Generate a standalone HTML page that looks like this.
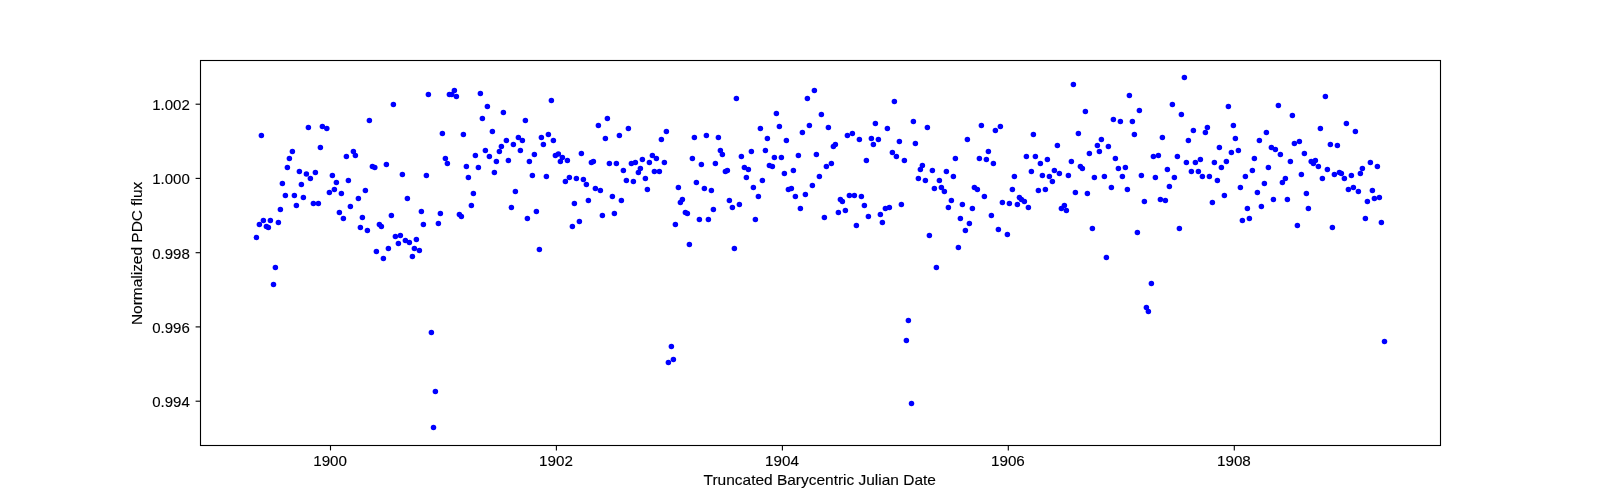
<!DOCTYPE html>
<html><head><meta charset="utf-8"><style>
html,body{margin:0;padding:0;background:#fff;width:1600px;height:500px;overflow:hidden}
svg{display:block;will-change:transform}
text{font-family:"Liberation Sans",sans-serif;fill:#000;stroke:#000;stroke-width:0.12px}
</style></head><body>
<svg width="1600" height="500" viewBox="0 0 1600 500">
<rect x="200.5" y="60.5" width="1240" height="385" fill="none" stroke="#000" stroke-width="1.11"/>
<line x1="330.5" y1="445.5" x2="330.5" y2="450.4" stroke="#000" stroke-width="1.11"/>
<text x="330.1" y="465.9" text-anchor="middle" font-size="13.9" textLength="33.8" lengthAdjust="spacingAndGlyphs">1900</text>
<line x1="556.4" y1="445.5" x2="556.4" y2="450.4" stroke="#000" stroke-width="1.11"/>
<text x="556.0" y="465.9" text-anchor="middle" font-size="13.9" textLength="33.8" lengthAdjust="spacingAndGlyphs">1902</text>
<line x1="782.4" y1="445.5" x2="782.4" y2="450.4" stroke="#000" stroke-width="1.11"/>
<text x="782.0" y="465.9" text-anchor="middle" font-size="13.9" textLength="33.8" lengthAdjust="spacingAndGlyphs">1904</text>
<line x1="1008.3" y1="445.5" x2="1008.3" y2="450.4" stroke="#000" stroke-width="1.11"/>
<text x="1007.9" y="465.9" text-anchor="middle" font-size="13.9" textLength="33.8" lengthAdjust="spacingAndGlyphs">1906</text>
<line x1="1234.3" y1="445.5" x2="1234.3" y2="450.4" stroke="#000" stroke-width="1.11"/>
<text x="1233.9" y="465.9" text-anchor="middle" font-size="13.9" textLength="33.8" lengthAdjust="spacingAndGlyphs">1908</text>
<line x1="195.6" y1="104.2" x2="200.5" y2="104.2" stroke="#000" stroke-width="1.11"/>
<text x="189.75" y="110.15" text-anchor="end" font-size="13.9" textLength="37.5" lengthAdjust="spacingAndGlyphs">1.002</text>
<line x1="195.6" y1="178.4" x2="200.5" y2="178.4" stroke="#000" stroke-width="1.11"/>
<text x="189.75" y="184.35" text-anchor="end" font-size="13.9" textLength="37.5" lengthAdjust="spacingAndGlyphs">1.000</text>
<line x1="195.6" y1="252.7" x2="200.5" y2="252.7" stroke="#000" stroke-width="1.11"/>
<text x="189.75" y="258.65" text-anchor="end" font-size="13.9" textLength="37.5" lengthAdjust="spacingAndGlyphs">0.998</text>
<line x1="195.6" y1="326.9" x2="200.5" y2="326.9" stroke="#000" stroke-width="1.11"/>
<text x="189.75" y="332.84999999999997" text-anchor="end" font-size="13.9" textLength="37.5" lengthAdjust="spacingAndGlyphs">0.996</text>
<line x1="195.6" y1="401.2" x2="200.5" y2="401.2" stroke="#000" stroke-width="1.11"/>
<text x="189.75" y="407.15" text-anchor="end" font-size="13.9" textLength="37.5" lengthAdjust="spacingAndGlyphs">0.994</text>
<text x="819.75" y="485.2" text-anchor="middle" font-size="13.9" textLength="232.3" lengthAdjust="spacingAndGlyphs">Truncated Barycentric Julian Date</text>
<text transform="translate(141.9,253.4) rotate(-90)" x="0" y="0" text-anchor="middle" font-size="13.9" textLength="143.4" lengthAdjust="spacingAndGlyphs">Normalized PDC flux</text>
<g fill="#0000ff"><circle cx="261.4" cy="135.4" r="2.75"/><circle cx="308.4" cy="127.4" r="2.75"/><circle cx="322.4" cy="126.4" r="2.75"/><circle cx="326.8" cy="128.4" r="2.75"/><circle cx="320.4" cy="147.4" r="2.75"/><circle cx="292.4" cy="151.4" r="2.75"/><circle cx="289.4" cy="158.4" r="2.75"/><circle cx="287.4" cy="167.4" r="2.75"/><circle cx="299.4" cy="171.4" r="2.75"/><circle cx="306.4" cy="174" r="2.75"/><circle cx="315.4" cy="172.4" r="2.75"/><circle cx="332.4" cy="175.4" r="2.75"/><circle cx="369.4" cy="120.4" r="2.75"/><circle cx="393.4" cy="104.4" r="2.75"/><circle cx="353.4" cy="151.4" r="2.75"/><circle cx="355.4" cy="155.4" r="2.75"/><circle cx="346.4" cy="156.4" r="2.75"/><circle cx="372.4" cy="166.4" r="2.75"/><circle cx="374.8" cy="167.4" r="2.75"/><circle cx="386.4" cy="164.4" r="2.75"/><circle cx="402.4" cy="174.4" r="2.75"/><circle cx="426.4" cy="175.4" r="2.75"/><circle cx="428.4" cy="94.4" r="2.75"/><circle cx="454.4" cy="90.4" r="2.75"/><circle cx="449.4" cy="94.4" r="2.75"/><circle cx="451.8" cy="94.6" r="2.75"/><circle cx="456.4" cy="96.4" r="2.75"/><circle cx="480.4" cy="93.4" r="2.75"/><circle cx="487.4" cy="106.4" r="2.75"/><circle cx="503.4" cy="112.4" r="2.75"/><circle cx="482.4" cy="118.4" r="2.75"/><circle cx="525.4" cy="120.4" r="2.75"/><circle cx="551.4" cy="100.4" r="2.75"/><circle cx="442.4" cy="133.4" r="2.75"/><circle cx="463.4" cy="134.4" r="2.75"/><circle cx="492.4" cy="131.4" r="2.75"/><circle cx="506.4" cy="140.4" r="2.75"/><circle cx="518.4" cy="137.4" r="2.75"/><circle cx="522.4" cy="140.4" r="2.75"/><circle cx="513.4" cy="144.4" r="2.75"/><circle cx="501.4" cy="146.4" r="2.75"/><circle cx="499.4" cy="151.4" r="2.75"/><circle cx="485.4" cy="150.4" r="2.75"/><circle cx="489.4" cy="156.4" r="2.75"/><circle cx="475.4" cy="155.4" r="2.75"/><circle cx="520.4" cy="150.4" r="2.75"/><circle cx="541.4" cy="137.4" r="2.75"/><circle cx="548.4" cy="134.4" r="2.75"/><circle cx="553.4" cy="140.4" r="2.75"/><circle cx="543.4" cy="144.4" r="2.75"/><circle cx="534.4" cy="154.4" r="2.75"/><circle cx="529.4" cy="161.4" r="2.75"/><circle cx="508.4" cy="160.4" r="2.75"/><circle cx="496.4" cy="161.4" r="2.75"/><circle cx="445.4" cy="158.4" r="2.75"/><circle cx="447.4" cy="163.4" r="2.75"/><circle cx="466.4" cy="166.4" r="2.75"/><circle cx="478.4" cy="167.4" r="2.75"/><circle cx="494.4" cy="172.4" r="2.75"/><circle cx="532.4" cy="175.4" r="2.75"/><circle cx="546.4" cy="176.4" r="2.75"/><circle cx="468.4" cy="177.4" r="2.75"/><circle cx="555.4" cy="155.4" r="2.75"/><circle cx="558.4" cy="154" r="2.75"/><circle cx="562.4" cy="157.4" r="2.75"/><circle cx="560.4" cy="161.4" r="2.75"/><circle cx="567.4" cy="160.4" r="2.75"/><circle cx="581.4" cy="153.4" r="2.75"/><circle cx="591.4" cy="162.4" r="2.75"/><circle cx="593.4" cy="161.4" r="2.75"/><circle cx="598.4" cy="125.4" r="2.75"/><circle cx="607.4" cy="118.4" r="2.75"/><circle cx="605.4" cy="138.4" r="2.75"/><circle cx="619.4" cy="135.4" r="2.75"/><circle cx="628.4" cy="128.4" r="2.75"/><circle cx="609.4" cy="163.4" r="2.75"/><circle cx="616.4" cy="163.4" r="2.75"/><circle cx="623.4" cy="170.4" r="2.75"/><circle cx="631.4" cy="163.4" r="2.75"/><circle cx="635.4" cy="162.4" r="2.75"/><circle cx="640.4" cy="168.4" r="2.75"/><circle cx="638.4" cy="172.4" r="2.75"/><circle cx="642.4" cy="159.4" r="2.75"/><circle cx="649.4" cy="162.4" r="2.75"/><circle cx="652.4" cy="155.4" r="2.75"/><circle cx="656.4" cy="158.4" r="2.75"/><circle cx="664.4" cy="162.4" r="2.75"/><circle cx="654.4" cy="171.4" r="2.75"/><circle cx="659.4" cy="171.4" r="2.75"/><circle cx="661.4" cy="139.4" r="2.75"/><circle cx="666.4" cy="131.4" r="2.75"/><circle cx="694.4" cy="137.4" r="2.75"/><circle cx="706.4" cy="135.4" r="2.75"/><circle cx="718.4" cy="137.4" r="2.75"/><circle cx="692.4" cy="158.4" r="2.75"/><circle cx="701.4" cy="164.4" r="2.75"/><circle cx="715.4" cy="163.4" r="2.75"/><circle cx="720.4" cy="150.4" r="2.75"/><circle cx="722.4" cy="154.4" r="2.75"/><circle cx="725.4" cy="171.4" r="2.75"/><circle cx="727.4" cy="170.4" r="2.75"/><circle cx="736.4" cy="98.4" r="2.75"/><circle cx="741.4" cy="156.4" r="2.75"/><circle cx="751.4" cy="151.4" r="2.75"/><circle cx="744.4" cy="167.4" r="2.75"/><circle cx="748.4" cy="169.4" r="2.75"/><circle cx="760.4" cy="128.4" r="2.75"/><circle cx="767.4" cy="138.4" r="2.75"/><circle cx="776.4" cy="113.4" r="2.75"/><circle cx="779.4" cy="126.4" r="2.75"/><circle cx="786.4" cy="140.4" r="2.75"/><circle cx="765.4" cy="150.4" r="2.75"/><circle cx="774.4" cy="157.4" r="2.75"/><circle cx="781.4" cy="157.4" r="2.75"/><circle cx="769.4" cy="165.4" r="2.75"/><circle cx="772.4" cy="166.4" r="2.75"/><circle cx="784.4" cy="173.4" r="2.75"/><circle cx="793.4" cy="170.4" r="2.75"/><circle cx="807.4" cy="98.4" r="2.75"/><circle cx="814.4" cy="90.4" r="2.75"/><circle cx="821.4" cy="114.4" r="2.75"/><circle cx="809.4" cy="125.4" r="2.75"/><circle cx="802.4" cy="132.4" r="2.75"/><circle cx="828.4" cy="127.4" r="2.75"/><circle cx="798.4" cy="155.4" r="2.75"/><circle cx="816.4" cy="154.4" r="2.75"/><circle cx="833.4" cy="146.4" r="2.75"/><circle cx="835.4" cy="144.4" r="2.75"/><circle cx="826.4" cy="166.4" r="2.75"/><circle cx="831.4" cy="163.4" r="2.75"/><circle cx="847.4" cy="135.4" r="2.75"/><circle cx="852.4" cy="133.4" r="2.75"/><circle cx="859.4" cy="139.4" r="2.75"/><circle cx="866.4" cy="160.4" r="2.75"/><circle cx="569.4" cy="177.4" r="2.75"/><circle cx="746.4" cy="177.4" r="2.75"/><circle cx="819.4" cy="176.4" r="2.75"/><circle cx="871.4" cy="138.4" r="2.75"/><circle cx="878.4" cy="139.4" r="2.75"/><circle cx="873.4" cy="144.4" r="2.75"/><circle cx="875.4" cy="123.4" r="2.75"/><circle cx="887.4" cy="128.4" r="2.75"/><circle cx="894.4" cy="101.4" r="2.75"/><circle cx="892.4" cy="152.4" r="2.75"/><circle cx="896.4" cy="156.4" r="2.75"/><circle cx="904.4" cy="160.4" r="2.75"/><circle cx="899.4" cy="141.4" r="2.75"/><circle cx="913.4" cy="121.4" r="2.75"/><circle cx="915.4" cy="143.4" r="2.75"/><circle cx="927.4" cy="127.4" r="2.75"/><circle cx="922.4" cy="165.4" r="2.75"/><circle cx="920.4" cy="169.4" r="2.75"/><circle cx="932.4" cy="170.4" r="2.75"/><circle cx="946.4" cy="171.4" r="2.75"/><circle cx="953.4" cy="176.4" r="2.75"/><circle cx="955.4" cy="158.4" r="2.75"/><circle cx="967.4" cy="139.4" r="2.75"/><circle cx="981.4" cy="125.4" r="2.75"/><circle cx="995.4" cy="130.4" r="2.75"/><circle cx="1000.4" cy="126.4" r="2.75"/><circle cx="988.4" cy="151.4" r="2.75"/><circle cx="979.4" cy="158.4" r="2.75"/><circle cx="986.4" cy="159.4" r="2.75"/><circle cx="993.4" cy="163.4" r="2.75"/><circle cx="1014.4" cy="176.4" r="2.75"/><circle cx="1026.4" cy="156.4" r="2.75"/><circle cx="1035.4" cy="156.4" r="2.75"/><circle cx="1040.4" cy="163.4" r="2.75"/><circle cx="1047.4" cy="159.4" r="2.75"/><circle cx="1031.4" cy="171.4" r="2.75"/><circle cx="1042.4" cy="175.4" r="2.75"/><circle cx="1049.4" cy="176.4" r="2.75"/><circle cx="1054.4" cy="170.4" r="2.75"/><circle cx="1059.4" cy="173.4" r="2.75"/><circle cx="1068.4" cy="175.4" r="2.75"/><circle cx="1033.4" cy="134.4" r="2.75"/><circle cx="1057.4" cy="145.4" r="2.75"/><circle cx="1073.4" cy="84.4" r="2.75"/><circle cx="1085.4" cy="111.4" r="2.75"/><circle cx="1078.4" cy="133.4" r="2.75"/><circle cx="1071.4" cy="161.4" r="2.75"/><circle cx="1080.4" cy="166.4" r="2.75"/><circle cx="1082.4" cy="168.4" r="2.75"/><circle cx="1089.4" cy="153.4" r="2.75"/><circle cx="1097.4" cy="145.4" r="2.75"/><circle cx="1101.4" cy="139.4" r="2.75"/><circle cx="1099.4" cy="151.4" r="2.75"/><circle cx="1108.4" cy="146.4" r="2.75"/><circle cx="1094.4" cy="177.4" r="2.75"/><circle cx="1104.4" cy="176.4" r="2.75"/><circle cx="1113.4" cy="119.4" r="2.75"/><circle cx="1120.4" cy="121.4" r="2.75"/><circle cx="1129.4" cy="95.4" r="2.75"/><circle cx="1132.4" cy="121.4" r="2.75"/><circle cx="1139.4" cy="110.4" r="2.75"/><circle cx="1134.4" cy="134.4" r="2.75"/><circle cx="1115.4" cy="158.4" r="2.75"/><circle cx="1118.4" cy="168.4" r="2.75"/><circle cx="1125.4" cy="167.4" r="2.75"/><circle cx="1122.4" cy="176.4" r="2.75"/><circle cx="1141.4" cy="175.4" r="2.75"/><circle cx="1153.4" cy="156.4" r="2.75"/><circle cx="1158.4" cy="155.4" r="2.75"/><circle cx="1162.4" cy="137.4" r="2.75"/><circle cx="1172.4" cy="104.4" r="2.75"/><circle cx="1167.4" cy="169.4" r="2.75"/><circle cx="1155.4" cy="177.4" r="2.75"/><circle cx="1174.4" cy="177.4" r="2.75"/><circle cx="1184.4" cy="77.4" r="2.75"/><circle cx="1181.4" cy="114.4" r="2.75"/><circle cx="1177.4" cy="156.4" r="2.75"/><circle cx="1228.4" cy="106.4" r="2.75"/><circle cx="1193.4" cy="130.4" r="2.75"/><circle cx="1207.4" cy="127.4" r="2.75"/><circle cx="1205.4" cy="132.4" r="2.75"/><circle cx="1188.4" cy="140.4" r="2.75"/><circle cx="1219.4" cy="147.4" r="2.75"/><circle cx="1231.4" cy="152.4" r="2.75"/><circle cx="1238.4" cy="150.4" r="2.75"/><circle cx="1233.4" cy="125.4" r="2.75"/><circle cx="1235.4" cy="138.4" r="2.75"/><circle cx="1278.4" cy="105.4" r="2.75"/><circle cx="1292.4" cy="115.4" r="2.75"/><circle cx="1266.4" cy="132.4" r="2.75"/><circle cx="1259.4" cy="140.4" r="2.75"/><circle cx="1271.4" cy="147.4" r="2.75"/><circle cx="1275.4" cy="149.4" r="2.75"/><circle cx="1280.4" cy="154.4" r="2.75"/><circle cx="1294.4" cy="143.4" r="2.75"/><circle cx="1299.4" cy="141.4" r="2.75"/><circle cx="1304.4" cy="153.4" r="2.75"/><circle cx="1325.4" cy="96.4" r="2.75"/><circle cx="1320.4" cy="128.4" r="2.75"/><circle cx="1346.4" cy="123.4" r="2.75"/><circle cx="1355.4" cy="131.4" r="2.75"/><circle cx="1330.4" cy="144.4" r="2.75"/><circle cx="1337.4" cy="145.4" r="2.75"/><circle cx="1186.4" cy="162.4" r="2.75"/><circle cx="1195.4" cy="162.4" r="2.75"/><circle cx="1200.4" cy="159.4" r="2.75"/><circle cx="1214.4" cy="162.4" r="2.75"/><circle cx="1226.4" cy="161.4" r="2.75"/><circle cx="1221.4" cy="167.4" r="2.75"/><circle cx="1191.4" cy="171.4" r="2.75"/><circle cx="1198.4" cy="171.4" r="2.75"/><circle cx="1202.4" cy="176.4" r="2.75"/><circle cx="1209.4" cy="176.4" r="2.75"/><circle cx="1217.4" cy="180.4" r="2.75"/><circle cx="1254.4" cy="158.4" r="2.75"/><circle cx="1252.4" cy="170.4" r="2.75"/><circle cx="1245.4" cy="176.4" r="2.75"/><circle cx="1240.4" cy="187.4" r="2.75"/><circle cx="1224.4" cy="195.4" r="2.75"/><circle cx="1212.4" cy="202.4" r="2.75"/><circle cx="1257.4" cy="192.4" r="2.75"/><circle cx="1264.4" cy="183.4" r="2.75"/><circle cx="1268.4" cy="167.4" r="2.75"/><circle cx="1290.4" cy="161.4" r="2.75"/><circle cx="1285.4" cy="178.4" r="2.75"/><circle cx="1282.4" cy="182.4" r="2.75"/><circle cx="1301.4" cy="174.4" r="2.75"/><circle cx="1306.4" cy="193.4" r="2.75"/><circle cx="1287.4" cy="199.4" r="2.75"/><circle cx="1273.4" cy="199.4" r="2.75"/><circle cx="1261.4" cy="206.4" r="2.75"/><circle cx="1247.4" cy="208.4" r="2.75"/><circle cx="1242.4" cy="220.4" r="2.75"/><circle cx="1249.4" cy="218.4" r="2.75"/><circle cx="1308.4" cy="208.4" r="2.75"/><circle cx="1311.2" cy="161.4" r="2.75"/><circle cx="1315.4" cy="160.4" r="2.75"/><circle cx="1313.4" cy="163.4" r="2.75"/><circle cx="1318.4" cy="166.4" r="2.75"/><circle cx="1327.4" cy="169.4" r="2.75"/><circle cx="1322.4" cy="178.4" r="2.75"/><circle cx="1334.4" cy="174.4" r="2.75"/><circle cx="1339.4" cy="172.4" r="2.75"/><circle cx="1341.4" cy="173.4" r="2.75"/><circle cx="1344.4" cy="178.4" r="2.75"/><circle cx="1351.4" cy="175.4" r="2.75"/><circle cx="1360.4" cy="173.4" r="2.75"/><circle cx="1362.4" cy="168.4" r="2.75"/><circle cx="1370.4" cy="162.4" r="2.75"/><circle cx="1377.4" cy="166.4" r="2.75"/><circle cx="1348.4" cy="189.4" r="2.75"/><circle cx="1353.4" cy="187.4" r="2.75"/><circle cx="1358.4" cy="191.4" r="2.75"/><circle cx="1372.4" cy="190.4" r="2.75"/><circle cx="1367.4" cy="201.4" r="2.75"/><circle cx="1374.4" cy="198.4" r="2.75"/><circle cx="1379.4" cy="197.4" r="2.75"/><circle cx="1179.4" cy="228.4" r="2.75"/><circle cx="1297.4" cy="225.4" r="2.75"/><circle cx="1332.4" cy="227.4" r="2.75"/><circle cx="1365.4" cy="218.4" r="2.75"/><circle cx="1381.4" cy="222.4" r="2.75"/><circle cx="282.4" cy="183.4" r="2.75"/><circle cx="301.4" cy="184.4" r="2.75"/><circle cx="310.4" cy="178.4" r="2.75"/><circle cx="336.4" cy="182.4" r="2.75"/><circle cx="348.4" cy="180.4" r="2.75"/><circle cx="334.4" cy="189.4" r="2.75"/><circle cx="329.4" cy="192.4" r="2.75"/><circle cx="341.4" cy="193.4" r="2.75"/><circle cx="365.4" cy="190.4" r="2.75"/><circle cx="358.4" cy="198.4" r="2.75"/><circle cx="350.4" cy="206.4" r="2.75"/><circle cx="285.4" cy="195.4" r="2.75"/><circle cx="294.4" cy="195.4" r="2.75"/><circle cx="303.4" cy="197.4" r="2.75"/><circle cx="296.4" cy="205.4" r="2.75"/><circle cx="313.4" cy="203.4" r="2.75"/><circle cx="318.4" cy="203.4" r="2.75"/><circle cx="280.4" cy="209.4" r="2.75"/><circle cx="263.4" cy="220.4" r="2.75"/><circle cx="270.4" cy="220.4" r="2.75"/><circle cx="259.4" cy="224.4" r="2.75"/><circle cx="266.4" cy="226.4" r="2.75"/><circle cx="268.4" cy="227.4" r="2.75"/><circle cx="278.4" cy="222.4" r="2.75"/><circle cx="256.4" cy="237.4" r="2.75"/><circle cx="275.4" cy="267.4" r="2.75"/><circle cx="339.4" cy="212.4" r="2.75"/><circle cx="343.4" cy="218.4" r="2.75"/><circle cx="362.4" cy="217.4" r="2.75"/><circle cx="360.4" cy="227.4" r="2.75"/><circle cx="367.4" cy="230.4" r="2.75"/><circle cx="379.4" cy="224.4" r="2.75"/><circle cx="381.4" cy="226.4" r="2.75"/><circle cx="391.4" cy="215.4" r="2.75"/><circle cx="407.4" cy="198.4" r="2.75"/><circle cx="421.4" cy="211.4" r="2.75"/><circle cx="440.4" cy="213.4" r="2.75"/><circle cx="423.4" cy="224.4" r="2.75"/><circle cx="438.4" cy="223.4" r="2.75"/><circle cx="459.4" cy="214.4" r="2.75"/><circle cx="461.4" cy="216.4" r="2.75"/><circle cx="471.4" cy="205.4" r="2.75"/><circle cx="473.4" cy="193.4" r="2.75"/><circle cx="395.4" cy="236.4" r="2.75"/><circle cx="400.4" cy="235.4" r="2.75"/><circle cx="405.4" cy="240.4" r="2.75"/><circle cx="409.4" cy="242.4" r="2.75"/><circle cx="416.4" cy="239.4" r="2.75"/><circle cx="398.4" cy="243.4" r="2.75"/><circle cx="388.4" cy="248.4" r="2.75"/><circle cx="376.4" cy="251.4" r="2.75"/><circle cx="383.4" cy="258.4" r="2.75"/><circle cx="414.4" cy="248.4" r="2.75"/><circle cx="419.4" cy="250.4" r="2.75"/><circle cx="412.4" cy="256.4" r="2.75"/><circle cx="515.4" cy="191.4" r="2.75"/><circle cx="511.4" cy="207.4" r="2.75"/><circle cx="536.4" cy="211.4" r="2.75"/><circle cx="527.4" cy="218.4" r="2.75"/><circle cx="539.4" cy="249.4" r="2.75"/><circle cx="565.4" cy="181.4" r="2.75"/><circle cx="576.4" cy="178.4" r="2.75"/><circle cx="583.4" cy="179.4" r="2.75"/><circle cx="586.4" cy="184.4" r="2.75"/><circle cx="595.4" cy="188.4" r="2.75"/><circle cx="600.4" cy="190.4" r="2.75"/><circle cx="612.4" cy="196.4" r="2.75"/><circle cx="621.4" cy="200.4" r="2.75"/><circle cx="626.4" cy="180.4" r="2.75"/><circle cx="633.4" cy="181.4" r="2.75"/><circle cx="645.4" cy="178.4" r="2.75"/><circle cx="647.4" cy="189.4" r="2.75"/><circle cx="574.4" cy="203.4" r="2.75"/><circle cx="588.4" cy="200.4" r="2.75"/><circle cx="602.4" cy="215.4" r="2.75"/><circle cx="614.4" cy="213.4" r="2.75"/><circle cx="579.4" cy="221.4" r="2.75"/><circle cx="572.4" cy="226.4" r="2.75"/><circle cx="678.4" cy="187.4" r="2.75"/><circle cx="696.4" cy="182.4" r="2.75"/><circle cx="704.4" cy="188.4" r="2.75"/><circle cx="711.4" cy="190.4" r="2.75"/><circle cx="682.4" cy="199.4" r="2.75"/><circle cx="680.4" cy="202.4" r="2.75"/><circle cx="685.4" cy="212.4" r="2.75"/><circle cx="687.4" cy="213.4" r="2.75"/><circle cx="713.4" cy="209.4" r="2.75"/><circle cx="699.4" cy="219.4" r="2.75"/><circle cx="708.4" cy="219.4" r="2.75"/><circle cx="675.4" cy="224.4" r="2.75"/><circle cx="689.4" cy="244.4" r="2.75"/><circle cx="729.4" cy="200.4" r="2.75"/><circle cx="732.4" cy="207.4" r="2.75"/><circle cx="739.4" cy="204.4" r="2.75"/><circle cx="753.4" cy="187.4" r="2.75"/><circle cx="762.4" cy="180.4" r="2.75"/><circle cx="758.4" cy="196.4" r="2.75"/><circle cx="755.4" cy="219.4" r="2.75"/><circle cx="734.4" cy="248.4" r="2.75"/><circle cx="788.4" cy="189.4" r="2.75"/><circle cx="791.4" cy="188.4" r="2.75"/><circle cx="795.4" cy="196.4" r="2.75"/><circle cx="805.4" cy="194.4" r="2.75"/><circle cx="812.4" cy="185.4" r="2.75"/><circle cx="800.4" cy="208.4" r="2.75"/><circle cx="824.4" cy="217.4" r="2.75"/><circle cx="840.4" cy="199.4" r="2.75"/><circle cx="842.4" cy="201.4" r="2.75"/><circle cx="849.4" cy="195.4" r="2.75"/><circle cx="854.4" cy="195.4" r="2.75"/><circle cx="861.4" cy="196.4" r="2.75"/><circle cx="864.4" cy="205.4" r="2.75"/><circle cx="838.4" cy="212.4" r="2.75"/><circle cx="845.4" cy="210.4" r="2.75"/><circle cx="856.4" cy="225.4" r="2.75"/><circle cx="918.4" cy="178.4" r="2.75"/><circle cx="925.4" cy="180.4" r="2.75"/><circle cx="939.4" cy="180.4" r="2.75"/><circle cx="934.4" cy="188.4" r="2.75"/><circle cx="941.4" cy="187.4" r="2.75"/><circle cx="944.4" cy="191.4" r="2.75"/><circle cx="951.4" cy="200.4" r="2.75"/><circle cx="948.4" cy="207.4" r="2.75"/><circle cx="962.4" cy="204.4" r="2.75"/><circle cx="972.4" cy="208.4" r="2.75"/><circle cx="868.4" cy="216.4" r="2.75"/><circle cx="880.4" cy="214.4" r="2.75"/><circle cx="885.4" cy="208.4" r="2.75"/><circle cx="889.4" cy="207.4" r="2.75"/><circle cx="901.4" cy="204.4" r="2.75"/><circle cx="882.4" cy="222.4" r="2.75"/><circle cx="929.4" cy="235.4" r="2.75"/><circle cx="974.4" cy="187.4" r="2.75"/><circle cx="977.4" cy="189.4" r="2.75"/><circle cx="984.4" cy="196.4" r="2.75"/><circle cx="960.4" cy="218.4" r="2.75"/><circle cx="969.4" cy="223.4" r="2.75"/><circle cx="965.4" cy="230.4" r="2.75"/><circle cx="991.4" cy="215.4" r="2.75"/><circle cx="958.4" cy="247.4" r="2.75"/><circle cx="936.4" cy="267.4" r="2.75"/><circle cx="1012.4" cy="189.4" r="2.75"/><circle cx="1002.4" cy="202.4" r="2.75"/><circle cx="1009.4" cy="203.4" r="2.75"/><circle cx="1017.4" cy="204.4" r="2.75"/><circle cx="1019.4" cy="197.4" r="2.75"/><circle cx="1021.4" cy="199.4" r="2.75"/><circle cx="1024.4" cy="201.4" r="2.75"/><circle cx="1028.4" cy="207.4" r="2.75"/><circle cx="998.4" cy="229.4" r="2.75"/><circle cx="1007.4" cy="234.4" r="2.75"/><circle cx="1038.4" cy="190.4" r="2.75"/><circle cx="1045.4" cy="189.4" r="2.75"/><circle cx="1052.4" cy="181.4" r="2.75"/><circle cx="1075.4" cy="192.4" r="2.75"/><circle cx="1087.4" cy="193.4" r="2.75"/><circle cx="1061.4" cy="208.4" r="2.75"/><circle cx="1064.4" cy="205.4" r="2.75"/><circle cx="1066.4" cy="210.4" r="2.75"/><circle cx="1092.4" cy="228.4" r="2.75"/><circle cx="1106.4" cy="257.4" r="2.75"/><circle cx="1111.4" cy="187.4" r="2.75"/><circle cx="1127.4" cy="189.4" r="2.75"/><circle cx="1144.4" cy="201.4" r="2.75"/><circle cx="1160.4" cy="199.4" r="2.75"/><circle cx="1165.4" cy="200.4" r="2.75"/><circle cx="1169.4" cy="186.4" r="2.75"/><circle cx="1137.4" cy="232.4" r="2.75"/><circle cx="273.5" cy="284.5" r="2.75"/><circle cx="431.4" cy="332.4" r="2.75"/><circle cx="435.4" cy="391.4" r="2.75"/><circle cx="433.5" cy="427.5" r="2.75"/><circle cx="671.4" cy="346.4" r="2.75"/><circle cx="673.4" cy="359.4" r="2.75"/><circle cx="668.4" cy="362.4" r="2.75"/><circle cx="908.4" cy="320.4" r="2.75"/><circle cx="906.4" cy="340.4" r="2.75"/><circle cx="1151.4" cy="283.4" r="2.75"/><circle cx="1146.4" cy="307.4" r="2.75"/><circle cx="1148.4" cy="311.4" r="2.75"/><circle cx="911.5" cy="403.5" r="2.75"/><circle cx="1384.5" cy="341.5" r="2.75"/></g>
</svg>
</body></html>
